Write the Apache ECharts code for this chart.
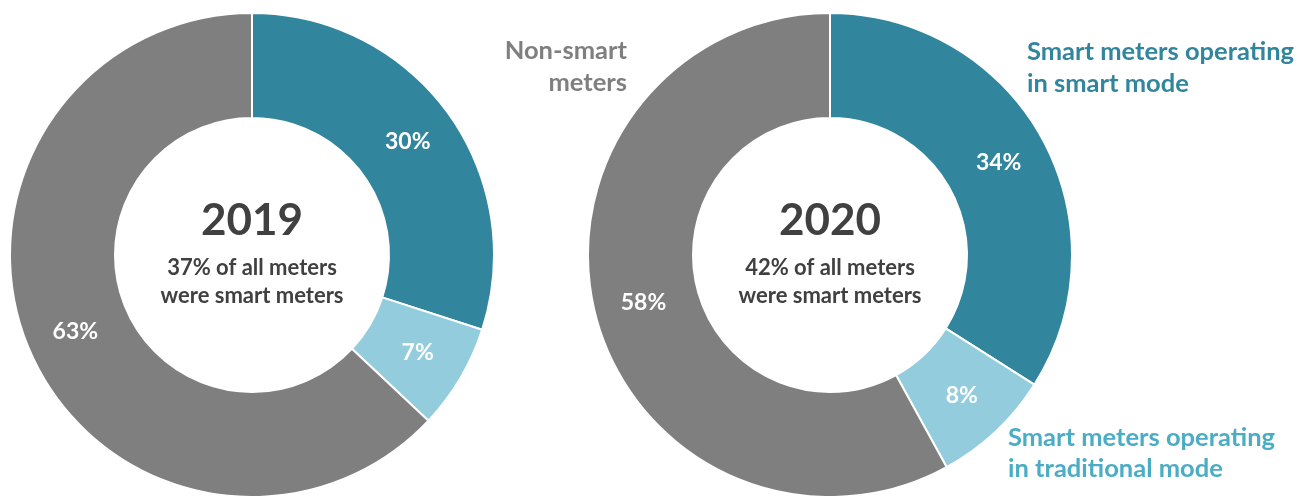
<!DOCTYPE html>
<html>
<head>
<meta charset="utf-8">
<style>
  html, body { margin: 0; padding: 0; background: #ffffff; }
  #chart { width: 1308px; height: 496px; }
</style>
<script src="https://cdn.jsdelivr.net/npm/echarts@6/dist/echarts.min.js"></script>
</head>
<body>
<div id="chart"></div>
<script>
// Meter categories, in clockwise order from 12 o'clock
const categories = [
  'Smart meters operating in smart mode',
  'Smart meters operating in traditional mode',
  'Non-smart meters'
];
const years = ['2019', '2020'];
const values2019 = [30, 7, 63];
const values2020 = [34, 8, 58];
const smartShare = [37, 42];

const colors = ['#31859C', '#93CDDD', '#7F7F7F'];
const FONT = 'Lato, "Open Sans", sans-serif';

const chart = echarts.init(document.getElementById('chart'), null, { renderer: 'canvas' });

function donut(values, cx) {
  return {
    type: 'pie',
    center: [cx, 255],
    radius: [137, 242],
    startAngle: 90,
    clockwise: true,
    silent: true,
    animation: false,
    itemStyle: { borderColor: '#ffffff', borderWidth: 2 },
    label: {
      show: true,
      position: 'inside',
      formatter: '{c}%',
      color: '#ffffff',
      fontFamily: FONT,
      fontWeight: 'bold',
      fontSize: 23
    },
    labelLine: { show: false },
    data: categories.map((name, i) => ({
      name: name,
      value: values[i],
      itemStyle: { color: colors[i] }
    }))
  };
}

function centerText(i, cx) {
  return [
    {
      type: 'text', x: cx, y: 221,
      style: {
        text: years[i], fill: '#404040', font: 'bold 44px ' + FONT,
        align: 'center', verticalAlign: 'middle'
      }
    },
    {
      type: 'text', x: cx, y: 282,
      style: {
        text: smartShare[i] + '% of all meters\nwere smart meters',
        fill: '#404040', font: 'bold 22px ' + FONT, lineHeight: 28,
        align: 'center', verticalAlign: 'middle'
      }
    }
  ];
}

chart.setOption({
  backgroundColor: '#ffffff',
  series: [donut(values2019, 252), donut(values2020, 830)],
  graphic: [
    ...centerText(0, 252),
    ...centerText(1, 830),
    {
      type: 'text', x: 627, y: 67,
      style: {
        text: 'Non-smart\nmeters', fill: '#7F7F7F', font: 'bold 25.5px ' + FONT,
        lineHeight: 32, align: 'right', verticalAlign: 'middle'
      }
    },
    {
      type: 'text', x: 1027, y: 68,
      style: {
        text: 'Smart meters operating\nin smart mode', fill: '#31859C',
        font: 'bold 25.5px ' + FONT, lineHeight: 32, align: 'left', verticalAlign: 'middle'
      }
    },
    {
      type: 'text', x: 1008, y: 453,
      style: {
        text: 'Smart meters operating\nin traditional mode', fill: '#4BACC6',
        font: 'bold 25.5px ' + FONT, lineHeight: 31, align: 'left', verticalAlign: 'middle'
      }
    }
  ]
});
</script>
</body>
</html>
